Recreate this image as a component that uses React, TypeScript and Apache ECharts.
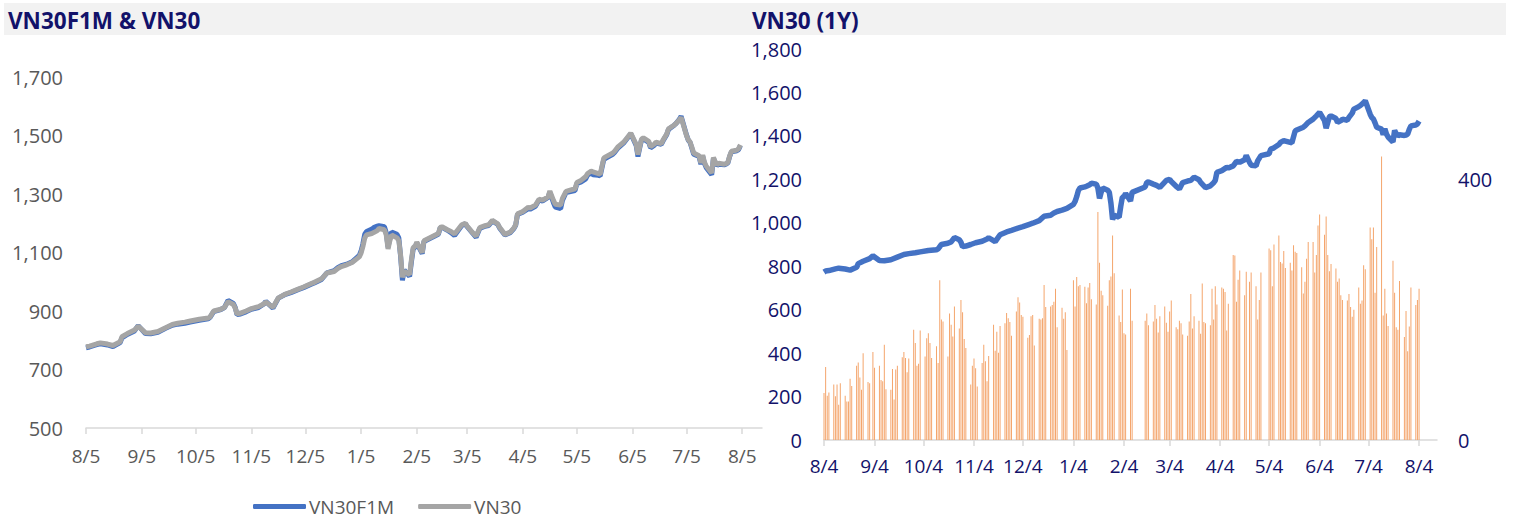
import React, { useEffect, useRef } from "react";
import * as echarts from "echarts";

// ---------- DATA ----------
const leftStart = "2020-08-05";
const rightStart = "2020-08-04";
const dayCount = 377;

const vn30Points: [string, number][] = [
  ["2020-08-04", 773], ["2020-08-05", 778], ["2020-08-07", 780], ["2020-08-11", 788], ["2020-08-13", 791],
  ["2020-08-17", 787], ["2020-08-20", 782], ["2020-08-24", 795], ["2020-08-25", 812], ["2020-08-28", 823],
  ["2020-09-01", 835], ["2020-09-03", 848], ["2020-09-07", 826], ["2020-09-10", 825], ["2020-09-14", 830],
  ["2020-09-18", 842], ["2020-09-22", 854], ["2020-09-25", 858], ["2020-09-29", 862], ["2020-10-02", 866],
  ["2020-10-07", 872], ["2020-10-12", 876], ["2020-10-13", 880], ["2020-10-15", 900], ["2020-10-19", 906],
  ["2020-10-21", 912], ["2020-10-23", 932], ["2020-10-26", 922], ["2020-10-27", 910], ["2020-10-28", 890],
  ["2020-10-30", 893], ["2020-11-02", 900], ["2020-11-05", 908], ["2020-11-09", 915], ["2020-11-12", 925],
  ["2020-11-13", 931], ["2020-11-17", 913], ["2020-11-20", 945], ["2020-11-24", 958], ["2020-11-27", 965],
  ["2020-12-01", 975], ["2020-12-04", 982], ["2020-12-08", 993], ["2020-12-10", 998], ["2020-12-14", 1010],
  ["2020-12-17", 1030], ["2020-12-21", 1035], ["2020-12-23", 1045], ["2020-12-25", 1052], ["2020-12-28", 1058],
  ["2020-12-31", 1066], ["2021-01-04", 1085], ["2021-01-05", 1098], ["2021-01-06", 1120], ["2021-01-07", 1148],
  ["2021-01-08", 1160], ["2021-01-11", 1165], ["2021-01-12", 1168], ["2021-01-14", 1175], ["2021-01-15", 1182],
  ["2021-01-18", 1178], ["2021-01-19", 1160], ["2021-01-20", 1112], ["2021-01-21", 1140], ["2021-01-22", 1160],
  ["2021-01-25", 1150], ["2021-01-26", 1140], ["2021-01-27", 1090], ["2021-01-28", 1015], ["2021-01-29", 1035],
  ["2021-02-01", 1025], ["2021-02-02", 1075], ["2021-02-03", 1118], ["2021-02-04", 1120], ["2021-02-05", 1135],
  ["2021-02-08", 1100], ["2021-02-09", 1140], ["2021-02-17", 1165], ["2021-02-18", 1186], ["2021-02-19", 1188],
  ["2021-02-22", 1178], ["2021-02-24", 1172], ["2021-02-26", 1163], ["2021-03-02", 1195], ["2021-03-04", 1200],
  ["2021-03-05", 1190], ["2021-03-08", 1168], ["2021-03-10", 1156], ["2021-03-12", 1185], ["2021-03-15", 1192],
  ["2021-03-17", 1195], ["2021-03-19", 1210], ["2021-03-22", 1198], ["2021-03-23", 1186], ["2021-03-26", 1162],
  ["2021-03-29", 1170], ["2021-03-31", 1184], ["2021-04-01", 1195], ["2021-04-02", 1232], ["2021-04-05", 1240],
  ["2021-04-08", 1255], ["2021-04-09", 1252], ["2021-04-12", 1262], ["2021-04-14", 1282], ["2021-04-16", 1279],
  ["2021-04-19", 1290], ["2021-04-20", 1310], ["2021-04-22", 1278], ["2021-04-23", 1265], ["2021-04-26", 1262],
  ["2021-04-27", 1285], ["2021-04-29", 1309], ["2021-05-04", 1318], ["2021-05-05", 1339], ["2021-05-07", 1345],
  ["2021-05-10", 1360], ["2021-05-11", 1370], ["2021-05-13", 1378], ["2021-05-14", 1376], ["2021-05-17", 1370],
  ["2021-05-18", 1368], ["2021-05-20", 1423], ["2021-05-21", 1427], ["2021-05-25", 1440], ["2021-05-26", 1446],
  ["2021-05-28", 1462], ["2021-05-31", 1477], ["2021-06-02", 1492], ["2021-06-04", 1508], ["2021-06-07", 1470],
  ["2021-06-08", 1435], ["2021-06-09", 1462], ["2021-06-10", 1488], ["2021-06-11", 1492], ["2021-06-14", 1480],
  ["2021-06-15", 1462], ["2021-06-17", 1470], ["2021-06-18", 1477], ["2021-06-21", 1472], ["2021-06-22", 1485],
  ["2021-06-24", 1505], ["2021-06-25", 1523], ["2021-06-28", 1535], ["2021-06-29", 1540], ["2021-07-01", 1553],
  ["2021-07-02", 1562], ["2021-07-05", 1500], ["2021-07-06", 1485], ["2021-07-07", 1478], ["2021-07-08", 1460],
  ["2021-07-09", 1440], ["2021-07-12", 1431], ["2021-07-13", 1406], ["2021-07-14", 1433], ["2021-07-15", 1408],
  ["2021-07-16", 1395], ["2021-07-19", 1372], ["2021-07-20", 1425], ["2021-07-21", 1410], ["2021-07-22", 1400],
  ["2021-07-23", 1405], ["2021-07-26", 1402], ["2021-07-27", 1404], ["2021-07-28", 1408], ["2021-07-29", 1430],
  ["2021-07-30", 1446], ["2021-08-02", 1450], ["2021-08-03", 1455], ["2021-08-04", 1468],
];

const vn30f1mPoints: [string, number][] = [
  ["2020-08-05", 774], ["2020-08-07", 777], ["2020-08-11", 785], ["2020-08-13", 788], ["2020-08-17", 784],
  ["2020-08-20", 778], ["2020-08-24", 792], ["2020-08-25", 808], ["2020-08-28", 820], ["2020-09-01", 832],
  ["2020-09-03", 850], ["2020-09-07", 823], ["2020-09-10", 822], ["2020-09-14", 827], ["2020-09-18", 840],
  ["2020-09-22", 851], ["2020-09-25", 855], ["2020-09-29", 858], ["2020-10-02", 862], ["2020-10-07", 868],
  ["2020-10-12", 873], ["2020-10-13", 878], ["2020-10-15", 898], ["2020-10-19", 905], ["2020-10-21", 912],
  ["2020-10-23", 936], ["2020-10-26", 926], ["2020-10-27", 912], ["2020-10-28", 888], ["2020-10-30", 890],
  ["2020-11-02", 897], ["2020-11-05", 906], ["2020-11-09", 912], ["2020-11-12", 924], ["2020-11-13", 933],
  ["2020-11-17", 910], ["2020-11-20", 944], ["2020-11-24", 957], ["2020-11-27", 963], ["2020-12-01", 973],
  ["2020-12-04", 980], ["2020-12-08", 991], ["2020-12-10", 996], ["2020-12-14", 1008], ["2020-12-17", 1030],
  ["2020-12-21", 1038], ["2020-12-23", 1048], ["2020-12-25", 1055], ["2020-12-28", 1060], ["2020-12-31", 1068],
  ["2021-01-04", 1090], ["2021-01-05", 1105], ["2021-01-06", 1130], ["2021-01-07", 1162], ["2021-01-08", 1172],
  ["2021-01-11", 1180], ["2021-01-12", 1185], ["2021-01-14", 1190], ["2021-01-15", 1192], ["2021-01-18", 1188],
  ["2021-01-19", 1168], ["2021-01-20", 1118], ["2021-01-21", 1150], ["2021-01-22", 1170], ["2021-01-25", 1162],
  ["2021-01-26", 1150], ["2021-01-27", 1085], ["2021-01-28", 1005], ["2021-01-29", 1040], ["2021-02-01", 1018],
  ["2021-02-02", 1068], ["2021-02-03", 1112], ["2021-02-04", 1118], ["2021-02-05", 1132], ["2021-02-08", 1096],
  ["2021-02-09", 1138], ["2021-02-17", 1162], ["2021-02-18", 1184], ["2021-02-19", 1186], ["2021-02-22", 1176],
  ["2021-02-24", 1168], ["2021-02-26", 1158], ["2021-03-02", 1192], ["2021-03-04", 1198], ["2021-03-05", 1188],
  ["2021-03-08", 1166], ["2021-03-10", 1152], ["2021-03-12", 1182], ["2021-03-15", 1190], ["2021-03-17", 1192],
  ["2021-03-19", 1208], ["2021-03-22", 1196], ["2021-03-23", 1184], ["2021-03-26", 1160], ["2021-03-29", 1168],
  ["2021-03-31", 1182], ["2021-04-01", 1193], ["2021-04-02", 1230], ["2021-04-05", 1238], ["2021-04-08", 1250],
  ["2021-04-09", 1248], ["2021-04-12", 1258], ["2021-04-14", 1280], ["2021-04-16", 1276], ["2021-04-19", 1288],
  ["2021-04-20", 1306], ["2021-04-22", 1270], ["2021-04-23", 1255], ["2021-04-26", 1250], ["2021-04-27", 1278],
  ["2021-04-29", 1305], ["2021-05-04", 1312], ["2021-05-05", 1335], ["2021-05-07", 1340], ["2021-05-10", 1352],
  ["2021-05-11", 1365], ["2021-05-13", 1372], ["2021-05-14", 1366], ["2021-05-17", 1364], ["2021-05-18", 1362],
  ["2021-05-20", 1418], ["2021-05-21", 1422], ["2021-05-25", 1436], ["2021-05-26", 1442], ["2021-05-28", 1458],
  ["2021-05-31", 1474], ["2021-06-02", 1490], ["2021-06-04", 1506], ["2021-06-07", 1466], ["2021-06-08", 1428],
  ["2021-06-09", 1458], ["2021-06-10", 1485], ["2021-06-11", 1488], ["2021-06-14", 1476], ["2021-06-15", 1458],
  ["2021-06-17", 1466], ["2021-06-18", 1474], ["2021-06-21", 1470], ["2021-06-22", 1482], ["2021-06-24", 1503],
  ["2021-06-25", 1521], ["2021-06-28", 1534], ["2021-06-29", 1540], ["2021-07-01", 1555], ["2021-07-02", 1566],
  ["2021-07-05", 1502], ["2021-07-06", 1484], ["2021-07-07", 1476], ["2021-07-08", 1456], ["2021-07-09", 1436],
  ["2021-07-12", 1428], ["2021-07-13", 1402], ["2021-07-14", 1430], ["2021-07-15", 1404], ["2021-07-16", 1390],
  ["2021-07-19", 1366], ["2021-07-20", 1422], ["2021-07-21", 1406], ["2021-07-22", 1398], ["2021-07-23", 1402],
  ["2021-07-26", 1400], ["2021-07-27", 1402], ["2021-07-28", 1406], ["2021-07-29", 1428], ["2021-07-30", 1444],
  ["2021-08-02", 1448], ["2021-08-03", 1452], ["2021-08-04", 1466],
];

// volume by week: Monday date, values Mon..Fri (null = no trading)
const volumeWeeks: [string, (number | null)[]][] = [
  ["2020-08-03", [null, 72, 112, 68, 73]],
  ["2020-08-10", [85, 67, 85, 54, 87]],
  ["2020-08-17", [68, 59, 59, 94, 83]],
  ["2020-08-24", [114, 119, 96, 77, 133]],
  ["2020-08-31", [89, 87, null, 135, 111]],
  ["2020-09-07", [114, 92, 90, 146, 78]],
  ["2020-09-14", [77, 109, 62, 108, 114]],
  ["2020-09-21", [127, 135, 126, 104, 125]],
  ["2020-09-28", [169, 149, 114, 117, 168]],
  ["2020-10-05", [128, 156, 164, 149, 126]],
  ["2020-10-12", [144, 118, 245, 185, 182]],
  ["2020-10-19", [128, 194, 177, 159, 205]],
  ["2020-10-26", [171, 215, 196, 155, 141]],
  ["2020-11-02", [85, 114, 125, 110, 82]],
  ["2020-11-09", [118, 146, 121, 90, 129]],
  ["2020-11-16", [177, 137, 166, 134, 175]],
  ["2020-11-23", [179, 195, 187, 181, 160]],
  ["2020-11-30", [197, 219, 211, 192, 189]],
  ["2020-12-07", [157, 161, 190, 192, 145]],
  ["2020-12-14", [186, 185, 187, 238, 204]],
  ["2020-12-21", [205, 207, 212, 232, 173]],
  ["2020-12-28", [203, 186, 196, 138, null]],
  ["2021-01-04", [245, 205, 250, 236, 238]],
  ["2021-01-11", [235, 210, 234, 241, 216]],
  ["2021-01-18", [208, 350, 272, 229, 222]],
  ["2021-01-25", [206, 245, 251, 314, 256]],
  ["2021-02-01", [191, 181, 231, 164, 162]],
  ["2021-02-08", [232, 183, null, null, null]],
  ["2021-02-15", [null, null, 183, 194, 176]],
  ["2021-02-22", [182, 207, 186, 165, 190]],
  ["2021-03-01", [205, 180, 166, 197, 214]],
  ["2021-03-08", [173, 170, 183, 179, 162]],
  ["2021-03-15", [160, 182, 224, 171, 190]],
  ["2021-03-22", [183, 163, 240, 181, 179]],
  ["2021-03-29", [176, 232, 185, 236, 208]],
  ["2021-04-05", [234, 232, 227, 168, 209]],
  ["2021-04-12", [284, 283, 212, 246, 260]],
  ["2021-04-19", [222, 258, null, 243, 257]],
  ["2021-04-26", [236, 185, 215, 257, null]],
  ["2021-05-03", [null, 294, 291, 236, 300]],
  ["2021-05-10", [314, 273, 271, 290, 264]],
  ["2021-05-17", [272, 260, 299, 289, 287]],
  ["2021-05-24", [265, 225, 243, 278, 304]],
  ["2021-05-31", [304, 257, 284, 329, 346]],
  ["2021-06-07", [315, 343, 284, 259, 270]],
  ["2021-06-14", [263, 243, 248, 222, 215]],
  ["2021-06-21", [214, 224, 204, 189, 200]],
  ["2021-06-28", [234, 209, 214, 268, 262]],
  ["2021-07-05", [326, 308, 326, 226, 296]],
  ["2021-07-12", [435, 191, 232, 194, 175]],
  ["2021-07-19", [275, 226, 173, 169, 244]],
  ["2021-07-26", [158, 198, 136, 174, 234]],
  ["2021-08-02", [207, 215, 232]],
];

const leftTicks = [500, 700, 900, 1100, 1300, 1500, 1700];
const rightPriceTicks = [0, 200, 400, 600, 800, 1000, 1200, 1400, 1600, 1800];
const volumeTicks = [0, 400];

// ---------- helpers ----------
const DAY = 86400000;
function toUTC(s: string) {
  const [y, m, d] = s.split("-").map(Number);
  return Date.UTC(y, m - 1, d);
}
function iso(t: number) {
  return new Date(t).toISOString().slice(0, 10);
}
function calendar(start: string, n: number) {
  const t0 = toUTC(start);
  const out: string[] = [];
  for (let i = 0; i < n; i++) out.push(iso(t0 + i * DAY));
  return out;
}
function place(cats: string[], pts: [string, number][]) {
  const idx = new Map(cats.map((c, i) => [c, i]));
  const arr: (number | null)[] = cats.map(() => null);
  pts.forEach(([d, v]) => {
    const i = idx.get(d);
    if (i !== undefined) arr[i] = v;
  });
  return arr;
}
function volumePoints(): [string, number][] {
  const out: [string, number][] = [];
  volumeWeeks.forEach(([mon, vals]) => {
    const t0 = toUTC(mon);
    vals.forEach((v, i) => {
      if (v !== null) out.push([iso(t0 + i * DAY), v]);
    });
  });
  return out;
}
const fmtDate = (v: string) => {
  const [, m, d] = v.split("-");
  return `${+m}/${+d}`;
};
const fmtNum = (v: number) => v.toLocaleString("en-US");

const FONT = "'Open Sans', 'Noto Sans', sans-serif";
const NAVY = "#12126a";
const GREY_TXT = "#595959";

export default function App() {
  const ref = useRef<HTMLDivElement>(null);
  useEffect(() => {
    if (!ref.current) return;
    const chart = echarts.init(ref.current, undefined, { renderer: "svg" });
    const leftCats = calendar(leftStart, dayCount);
    const rightCats = calendar(rightStart, dayCount);
    const isLeftTick = (_i: number, v: string) => v.endsWith("-05");
    const isRightTick = (_i: number, v: string) => v.endsWith("-04");

    const xBase = (cats: string[], gi: number, tickFn: any, color: string, margin: number) => ({
      type: "category",
      gridIndex: gi,
      data: cats,
      boundaryGap: false,
      axisLine: { lineStyle: { color: "#d9d9d9", width: 1.5 } },
      axisTick: { interval: tickFn, length: 6, lineStyle: { color: "#d9d9d9", width: 1.5 } },
      axisLabel: {
        interval: tickFn,
        formatter: fmtDate,
        color,
        fontSize: 19,
        fontFamily: FONT,
        margin,
      },
      splitLine: { show: false },
    });

    chart.setOption({
      animation: false,
      backgroundColor: "#ffffff",
      graphic: [
        { type: "rect", shape: { x: 4, y: 3, width: 1502, height: 32 }, style: { fill: "#f2f2f2" }, silent: true },
        {
          type: "text",
          x: 8,
          y: 20,
          style: { text: "VN30F1M & VN30", fill: NAVY, font: `bold 22.5px ${FONT}`, verticalAlign: "middle" },
        },
        {
          type: "text",
          x: 752,
          y: 20,
          style: { text: "VN30 (1Y)", fill: NAVY, font: `bold 22.5px ${FONT}`, verticalAlign: "middle" },
        },
      ],
      legend: {
        data: ["VN30F1M", "VN30"],
        left: 253,
        top: 497,
        padding: 0,
        icon: "roundRect",
        itemWidth: 53,
        itemHeight: 5,
        itemGap: 24,
        textStyle: { color: GREY_TXT, fontSize: 19, fontFamily: FONT, padding: [0, 0, 0, -2] },
      },
      grid: [
        { left: 86, top: 77, width: 676, height: 351 },
        { left: 824, top: 49, width: 613, height: 391 },
      ],
      xAxis: [xBase(leftCats, 0, isLeftTick, GREY_TXT, 18), xBase(rightCats, 1, isRightTick, NAVY, 16)],
      yAxis: [
        {
          type: "value",
          gridIndex: 0,
          min: leftTicks[0],
          max: leftTicks[leftTicks.length - 1],
          interval: leftTicks[1] - leftTicks[0],
          axisLine: { show: false },
          axisTick: { show: false },
          splitLine: { show: false },
          axisLabel: { formatter: fmtNum, color: GREY_TXT, fontSize: 20, fontFamily: FONT, margin: 23 },
        },
        {
          type: "value",
          gridIndex: 1,
          min: rightPriceTicks[0],
          max: rightPriceTicks[rightPriceTicks.length - 1],
          interval: rightPriceTicks[1] - rightPriceTicks[0],
          axisLine: { show: false },
          axisTick: { show: false },
          splitLine: { show: false },
          axisLabel: { formatter: fmtNum, color: NAVY, fontSize: 20, fontFamily: FONT, margin: 22 },
        },
        {
          type: "value",
          gridIndex: 1,
          position: "right",
          min: 0,
          max: 600,
          interval: volumeTicks[1] - volumeTicks[0],
          axisLine: { show: false },
          axisTick: { show: false },
          splitLine: { show: false },
          axisLabel: {
            formatter: (v: number) => (volumeTicks.includes(v) ? String(v) : ""),
            color: NAVY,
            fontSize: 20,
            fontFamily: FONT,
            margin: 21,
          },
        },
      ],
      series: [
        {
          name: "VN30F1M",
          type: "line",
          xAxisIndex: 0,
          yAxisIndex: 0,
          data: place(leftCats, vn30f1mPoints),
          connectNulls: true,
          showSymbol: false,
          lineStyle: { color: "#4472c4", width: 5 },
          itemStyle: { color: "#4472c4" },
          z: 3,
        },
        {
          name: "VN30",
          type: "line",
          xAxisIndex: 0,
          yAxisIndex: 0,
          data: place(leftCats, vn30Points),
          connectNulls: true,
          showSymbol: false,
          lineStyle: { color: "#a5a5a5", width: 5 },
          itemStyle: { color: "#a5a5a5" },
          z: 4,
        },
        {
          name: "Volume",
          type: "bar",
          xAxisIndex: 1,
          yAxisIndex: 2,
          data: place(rightCats, volumePoints()),
          barWidth: 1,
          itemStyle: { color: "#f4a56c" },
          z: 2,
        },
        {
          name: "VN30 (1Y)",
          type: "line",
          xAxisIndex: 1,
          yAxisIndex: 1,
          data: place(rightCats, vn30Points),
          connectNulls: true,
          showSymbol: false,
          lineStyle: { color: "#4472c4", width: 5.5 },
          itemStyle: { color: "#4472c4" },
          z: 4,
        },
      ],
    });
    return () => chart.dispose();
  }, []);
  return (
    <div
      ref={ref}
      style={{ position: "absolute", left: 0, top: 0, width: 1514, height: 518, background: "#fff" }}
    />
  );
}
